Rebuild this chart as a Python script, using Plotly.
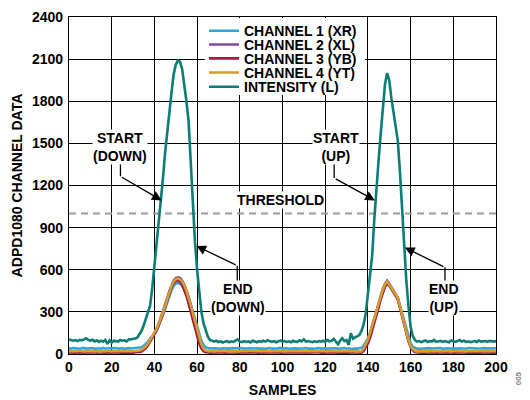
import plotly.graph_objects as go

SAMPLES = list(range(201))

INTENSITY = [
    104, 100, 95, 99, 92, 100, 97, 104, 112, 101,
    96, 102, 90, 98, 86, 95, 88, 100, 72, 97,
    82, 95, 92, 88, 100, 95, 98, 90, 104, 103,
    108, 110, 118, 138, 165, 205, 250, 295, 345, 470,
    620, 800, 950, 1080, 1250, 1430, 1590, 1740, 1860, 1990,
    2060, 2090, 2080, 2030, 1920, 1800, 1660, 1350, 1020, 800,
    600, 430, 300, 220, 165, 125, 100, 92, 88, 95,
    85, 90, 82, 88, 92, 84, 90, 86, 94, 104,
    88, 84, 92, 86, 90, 82, 95, 88, 84, 92,
    86, 94, 88, 98, 90, 86, 92, 84, 90, 96,
    88, 92, 86, 90, 84, 94, 88, 86, 98, 90,
    104, 88, 92, 86, 84, 90, 86, 92, 88, 94,
    86, 100, 90, 94, 108, 88, 70, 96, 112, 92,
    100, 64, 148, 110, 118, 122, 135, 165, 210, 290,
    430, 580, 700, 960, 1200, 1380, 1570, 1780, 1920, 2000,
    1950, 1820, 1720, 1620, 1520, 1300, 1030, 760, 520, 340,
    195, 130, 100, 88, 92, 85, 90, 96, 86, 92,
    88, 100, 86, 90, 94, 86, 92, 88, 84, 96,
    90, 86, 92, 100, 88, 94, 86, 90, 84, 88,
    92, 86, 96, 88, 90, 92, 86, 94, 90, 88,
    90,
]

CH1 = [
    40, 38, 42, 39, 41, 37, 40, 43, 38, 41,
    39, 42, 37, 40, 41, 38, 43, 39, 40, 37,
    41, 39, 42, 38, 40, 41, 37, 40, 42, 39,
    41, 40, 42, 44, 48, 58, 70, 88, 110, 125,
    140, 165, 198, 238, 278, 322, 368, 414, 455, 485,
    502, 505, 500, 485, 462, 440, 405, 355, 300, 245,
    190, 138, 95, 65, 48, 42, 38, 39, 41, 38,
    40, 37, 41, 39, 42, 38, 40, 41, 37, 40,
    39, 42, 38, 40, 37, 41, 39, 42, 40, 38,
    41, 39, 37, 40, 42, 38, 41, 39, 40, 43,
    38, 40, 41, 37, 39, 42, 40, 38, 41, 39,
    40, 42, 38, 41, 39, 37, 40, 42, 38, 40,
    41, 38, 40, 42, 39, 41, 37, 40, 39, 42,
    38, 41, 36, 40, 39, 38, 40, 45, 60, 82,
    110, 152, 200, 248, 300, 352, 400, 445, 478, 498,
    485, 462, 440, 418, 398, 345, 288, 228, 172, 118,
    78, 52, 42, 38, 37, 39, 41, 38, 40, 42,
    39, 41, 38, 40, 42, 37, 40, 41, 39, 38,
    42, 40, 38, 41, 39, 40, 37, 42, 39, 41,
    40, 38, 41, 39, 42, 40, 38, 41, 39, 40,
    41,
]

CH2 = [
    16, 14, 17, 15, 18, 13, 16, 15, 17, 14,
    16, 18, 14, 15, 17, 13, 16, 18, 15, 14,
    17, 15, 16, 14, 18, 16, 13, 15, 17, 16,
    14, 17, 16, 20, 26, 36, 52, 72, 97, 122,
    148, 178, 215, 258, 300, 348, 398, 448, 492, 522,
    540, 546, 540, 522, 495, 455, 408, 350, 288, 228,
    168, 112, 66, 35, 20, 15, 14, 16, 13, 15,
    17, 14, 16, 15, 13, 17, 15, 14, 16, 18,
    15, 13, 16, 17, 14, 15, 18, 16, 13, 15,
    16, 14, 17, 15, 13, 16, 18, 14, 15, 17,
    14, 16, 15, 13, 17, 15, 16, 14, 18, 15,
    16, 13, 15, 17, 14, 16, 15, 18, 14, 16,
    15, 17, 13, 16, 15, 14, 17, 15, 16, 14,
    16, 15, 17, 14, 16, 15, 14, 17, 38, 66,
    95, 145, 200, 252, 308, 365, 418, 465, 500, 522,
    500, 474, 448, 422, 400, 338, 276, 210, 155, 96,
    56, 30, 18, 14, 16, 15, 13, 17, 15, 14,
    16, 15, 17, 14, 16, 13, 15, 17, 16, 14,
    15, 17, 14, 16, 15, 13, 16, 18, 15, 14,
    16, 15, 13, 17, 15, 16, 14, 15, 17, 16,
    15,
]

CH3 = [
    11, 9, 12, 10, 13, 10, 11, 9, 12, 11,
    10, 12, 9, 11, 13, 10, 12, 9, 11, 10,
    12, 10, 11, 13, 9, 11, 10, 12, 10, 11,
    9, 12, 11, 14, 18, 28, 42, 62, 88, 115,
    140, 170, 205, 245, 288, 332, 380, 430, 475, 505,
    520, 525, 515, 495, 460, 415, 360, 300, 240, 180,
    125, 75, 40, 20, 12, 10, 11, 9, 12, 10,
    11, 13, 10, 9, 12, 11, 10, 12, 9, 11,
    10, 12, 11, 9, 13, 10, 11, 12, 10, 9,
    12, 11, 10, 13, 9, 11, 12, 10, 11, 10,
    9, 12, 11, 10, 12, 9, 11, 13, 10, 11,
    12, 10, 9, 11, 13, 10, 12, 11, 9, 10,
    11, 12, 10, 9, 12, 11, 10, 13, 11, 9,
    12, 10, 11, 9, 12, 11, 10, 10, 22, 45,
    75, 115, 165, 215, 270, 330, 390, 440, 480, 505,
    490, 465, 440, 415, 390, 330, 268, 205, 150, 92,
    52, 28, 14, 10, 11, 9, 12, 10, 11, 13,
    10, 12, 9, 11, 10, 12, 11, 9, 13, 10,
    11, 10, 12, 9, 11, 13, 10, 12, 11, 10,
    9, 11, 12, 10, 13, 11, 10, 12, 9, 11,
    10,
]

CH4 = [
    20, 22, 18, 21, 19, 23, 20, 18, 22, 20,
    19, 21, 18, 22, 20, 17, 21, 19, 23, 20,
    18, 21, 20, 19, 22, 18, 20, 21, 19, 22,
    20, 21, 22, 25, 30, 40, 55, 75, 100, 125,
    150, 180, 215, 255, 295, 340, 390, 440, 485, 515,
    532, 538, 532, 515, 490, 450, 405, 350, 290, 230,
    170, 115, 70, 38, 24, 20, 18, 21, 19, 20,
    18, 20, 22, 19, 21, 18, 20, 19, 22, 20,
    19, 21, 18, 20, 22, 19, 21, 20, 18, 20,
    21, 19, 20, 22, 18, 20, 21, 19, 20, 22,
    19, 20, 18, 21, 20, 19, 22, 20, 18, 21,
    20, 19, 21, 18, 20, 22, 19, 20, 21, 19,
    20, 18, 21, 20, 19, 22, 20, 18, 21, 19,
    20, 21, 18, 20, 19, 18, 17, 18, 40, 70,
    100, 150, 205, 255, 310, 365, 415, 460, 495, 515,
    495, 470, 445, 420, 400, 340, 280, 215, 160, 100,
    60, 35, 22, 18, 20, 19, 21, 18, 20, 19,
    21, 20, 18, 20, 19, 22, 20, 18, 21, 19,
    20, 21, 18, 20, 22, 19, 20, 18, 21, 20,
    19, 21, 20, 18, 20, 22, 19, 20, 21, 19,
    20,
]

THRESHOLD = 1000
SERIES_NAMES = ["CHANNEL 1 (XR)", "CHANNEL 2 (XL)", "CHANNEL 3 (YB)", "CHANNEL 4 (YT)", "INTENSITY (L)"]
SERIES_COLORS = ["#2aa7df", "#7b4a9c", "#a61a40", "#d39e30", "#0a7d74"]
X_TICKS = [0, 20, 40, 60, 80, 100, 120, 140, 160, 180, 200]
Y_TICKS = [0, 300, 600, 900, 1200, 1500, 1800, 2100, 2400]

FONT = "Liberation Sans, Arial, sans-serif"

# page body has an 8px margin, so the figure is drawn 8px in from the window edge
OFF = 8
W, H = 530 - OFF, 400 - OFF
ML, MR, MT, MB = 61, 34, 7, 46
PW = W - ML - MR
PH = H - MT - MB


def paper_x(px):
    return (px - OFF - ML) / PW


def paper_y(py):
    return (MT + PH - (py - OFF)) / PH


fig = go.Figure()

fig.add_trace(go.Scatter(
    x=[SAMPLES[0], SAMPLES[-1]], y=[THRESHOLD, THRESHOLD], mode="lines",
    line=dict(color="#9e9e9e", width=2, dash="7px,5px"),
    showlegend=False, hoverinfo="skip"))

values = [CH1, CH2, CH3, CH4, INTENSITY]
legend_keys = ["legend", "legend2", "legend3", "legend4", "legend5"]
for name, vals, color, lg in zip(SERIES_NAMES, values, SERIES_COLORS, legend_keys):
    fig.add_trace(go.Scatter(
        x=SAMPLES, y=vals, name=name, mode="lines",
        line=dict(color=color, width=2.6), legend=lg))

# legend rows (pixel y of each row centre in the window)
legend_py = [29.3, 43.0, 57.0, 71.2, 85.6]
legend_layout = {}
for key, py in zip(legend_keys, legend_py):
    legend_layout[key] = dict(
        x=paper_x(204), xanchor="left",
        y=paper_y(py), yanchor="middle",
        bgcolor="rgba(0,0,0,0)", borderwidth=0,
        font=dict(family=FONT, size=14, color="black", weight="bold"),
        itemwidth=30)

tf = dict(family=FONT, size=14, color="black", weight="bold")

fig.update_layout(
    width=W, height=H,
    margin=dict(l=ML, r=MR, t=MT, b=MB, pad=0),
    paper_bgcolor="white", plot_bgcolor="white",
    font=tf,
    xaxis=dict(
        range=[0, 200], tickvals=X_TICKS, ticktext=[str(v) for v in X_TICKS],
        showgrid=True, gridcolor="black", gridwidth=1,
        showline=True, linecolor="black", linewidth=1.2, mirror=True,
        zeroline=False, ticks="", tickfont=tf,
        title=dict(text="SAMPLES", font=tf, standoff=11),
        automargin=False),
    yaxis=dict(
        range=[0, 2400], tickvals=Y_TICKS, ticktext=[str(v) for v in Y_TICKS],
        showgrid=True, gridcolor="black", gridwidth=1,
        showline=True, linecolor="black", linewidth=1.2, mirror=True,
        zeroline=False, ticks="", tickfont=tf, ticklabelstandoff=2,
        title=dict(text="ADPD1080 CHANNEL DATA", font=tf, standoff=6),
        automargin=False),
    **legend_layout,
)

# white box behind legend rows
fig.add_shape(type="rect", xref="x", yref="y", x0=63.6, x1=138.6, y0=1845, y1=2392,
              fillcolor="white", line=dict(width=0), layer="above")


def label(x, y, text):
    fig.add_annotation(x=x, y=y, xref="x", yref="y", text=text, showarrow=False,
                       font=tf, bgcolor="white", borderpad=0)


def elbow_arrow(x_stub, y_text, y_elbow, x_tip, y_tip):
    fig.add_shape(type="line", xref="x", yref="y", x0=x_stub, x1=x_stub,
                  y0=y_text, y1=y_elbow, line=dict(color="black", width=1.3), layer="above")
    fig.add_annotation(x=x_tip, y=y_tip, ax=x_stub, ay=y_elbow, xref="x", yref="y",
                       axref="x", ayref="y", text="", showarrow=True,
                       arrowhead=2, arrowsize=1.5, arrowwidth=1.3, arrowcolor="black",
                       standoff=0, startstandoff=0)


# START (DOWN)
elbow_arrow(24.1, 1380, 1265, 43.4, 1094)
label(23.8, 1472, "START<br>(DOWN)")
# END (DOWN)
elbow_arrow(78.8, 480, 629, 59.6, 770)
label(79.1, 401, "END<br>(DOWN)")
# START (UP)
elbow_arrow(124.2, 1380, 1253, 143.3, 1094)
label(125.1, 1472, "START<br>(UP)")
# END (UP)
elbow_arrow(176.1, 480, 617, 157.3, 758)
label(175.7, 401, "END<br>(UP)")
# THRESHOLD
label(99.0, 1094, "THRESHOLD")

fig.add_annotation(x=paper_x(525), y=paper_y(388), xref="paper", yref="paper",
                   text="005", textangle=-90, showarrow=False,
                   font=dict(family=FONT, size=8, color="#888888"))

fig.write_html("out.html")
